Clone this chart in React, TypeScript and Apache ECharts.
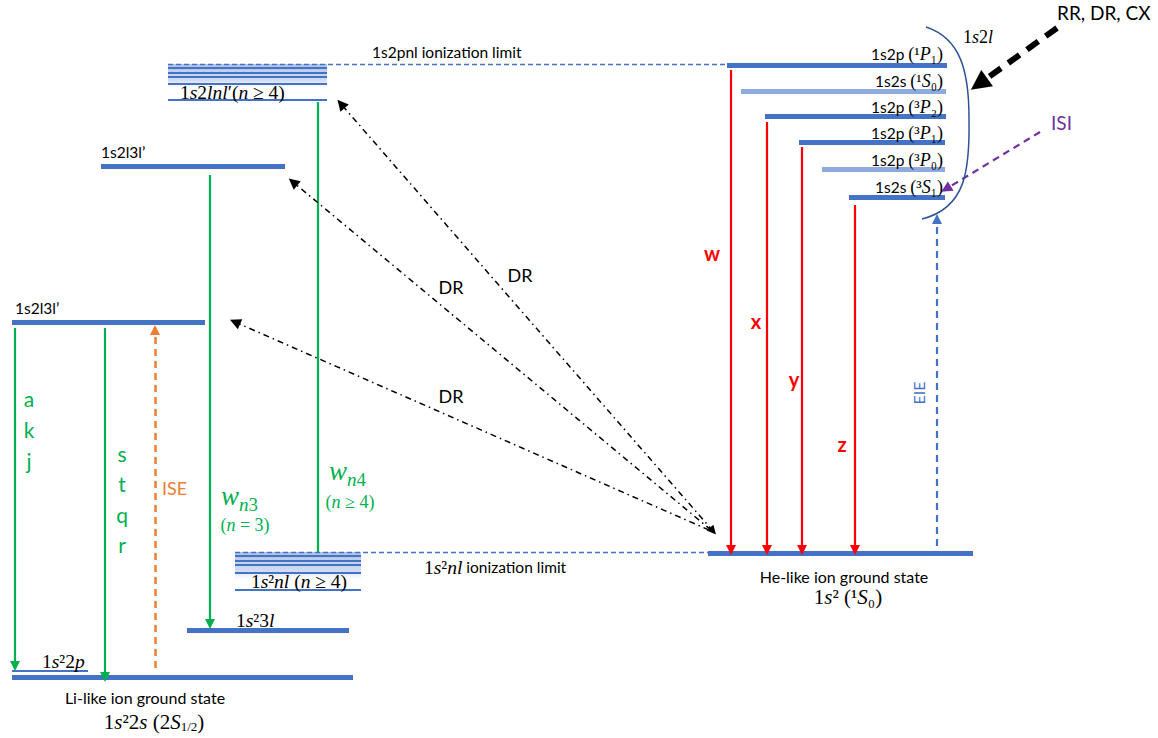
import React, { useEffect, useRef } from "react";
import * as echarts from "echarts";

// ---- Diagram data (pixel-like energy-level coordinates) ----
// levels: [x1, x2, y]
const LI_THICK: number[][] = [
  [12, 353, 677], // Li-like ground 1s²2s
  [187, 349, 630], // 1s²3l
  [12, 205, 322], // 1s2l3l' (lower)
  [101, 285, 166], // 1s2l3l' (upper)
];
const LI_THIN: number[][] = [
  [12, 88, 671], // 1s²2p
  [235, 361, 590], // 1s²nl bottom
  [168, 327, 100], // 1s2lnl' bottom
];
const BAND_LINES: number[][] = [
  [168, 327, 68], [168, 327, 72.5], [168, 327, 77], [168, 327, 84],
  [235, 361, 556], [235, 361, 560.5], [235, 361, 565], [235, 361, 573],
];
// bands: [x1, x2, yTop, yBottom]
const BANDS: number[][] = [
  [168, 327, 64, 90],
  [235, 361, 552, 582],
];
const LIMITS: number[][] = [
  [168, 728, 64],
  [235, 708, 552],
];
const HE_DARK: number[][] = [
  [708, 973, 553], // He-like ground
  [727, 947, 65], // 1P1
  [765, 946, 116], // 3P2
  [799, 945, 142], // 3P1
  [849, 945, 197], // 3S1
];
const HE_LIGHT: number[][] = [
  [741, 946, 91], // 1S0
  [822, 945, 169], // 3P0
];
// vertical transitions: [x, yFrom, yTo]
const RED_LINES: number[][] = [
  [731, 70, 550],
  [767, 122, 550],
  [802, 147, 550],
  [855, 205, 550],
];
const GREEN_ARROWS: number[][] = [
  [15, 328, 666],
  [105, 328, 677],
  [210, 175, 624],
];
const GREEN_PLAIN: number[][] = [[318, 102, 552]];
const ISE_ARROW: number[][] = [[155, 668, 330]];
const EIE_ARROW: number[][] = [[937, 546, 219]];
// oblique arrows: [x1, y1, x2, y2]
const DR_ARROWS: number[][] = [
  [713, 531, 341, 104],
  [711, 530, 293, 182],
  [709, 530, 235, 322],
];
const FEED_ARROW: number[][] = [[1057, 28, 979, 84]];
const ISI_ARROW: number[][] = [[1040, 132, 946, 189]];
// brace: two cubic segments [x1,y1,cx1,cy1,cx2,cy2,x2,y2]
const BRACE: number[][] = [
  [926, 27, 960, 38, 969, 70, 969, 118],
  [969, 118, 970, 170, 966, 208, 922, 219],
];

type Lbl = {
  t: string;
  x: number;
  y: number;
  a?: "left" | "center" | "right";
  c?: string;
  f?: number;
  b?: boolean;
  r?: number;
};

const BLUE = "#4472C4";
const LIGHT = "#8FAADC";
const GREEN = "#00B050";
const RED = "#FF0000";
const ORANGE = "#ED7D31";
const PURPLE = "#7030A0";

const LABELS: Lbl[] = [
  { t: "1s2pnl ionization limit", x: 372, y: 52 },
  { t: "{n|1}{i|s}{n|2}{i|lnl}{n|′(}{i|n}{n| ≥ 4)}", x: 180, y: 92 },
  { t: "1s2l3l’", x: 101, y: 152 },
  { t: "1s2l3l’", x: 15, y: 308 },
  { t: "{n|1}{i|s}{n|²}{i|nl}{n| (}{i|n}{n| ≥ 4)}", x: 299, y: 581, a: "center" },
  { t: "{n|1}{i|s}{n|²}{i|nl}{s| ionization limit}", x: 424, y: 567 },
  { t: "{n|1}{i|s}{n|²3}{i|l}", x: 236, y: 620 },
  { t: "{n|1}{i|s}{n|²2}{i|p}", x: 42, y: 661 },
  { t: "Li-like ion ground state", x: 145, y: 697, a: "center", f: 16 },
  { t: "{N|1}{I|s}{N|²2}{I|s}{N| (2}{I|S}{sb|1/2}{N|)}", x: 154, y: 722, a: "center" },
  { t: "He-like ion ground state", x: 844, y: 576, a: "center", f: 16 },
  { t: "{N|1}{I|s}{N|² (¹}{I|S}{N|₀)}", x: 848, y: 597, a: "center" },
  { t: "{s|1s2p }{p|(¹}{q|P}{p|₁)}", x: 943, y: 54, a: "right" },
  { t: "{s|1s2s }{p|(¹}{q|S}{p|₀)}", x: 943, y: 81, a: "right" },
  { t: "{s|1s2p }{p|(³}{q|P}{p|₂)}", x: 943, y: 107, a: "right" },
  { t: "{s|1s2p }{p|(³}{q|P}{p|₁)}", x: 943, y: 133, a: "right" },
  { t: "{s|1s2p }{p|(³}{q|P}{p|₀)}", x: 943, y: 160, a: "right" },
  { t: "{s|1s2s }{p|(³}{q|S}{p|₁)}", x: 943, y: 187, a: "right" },
  { t: "{p|1}{q|s}{p|2}{q|l}", x: 963, y: 37 },
  { t: "RR, DR, CX", x: 1057, y: 12, f: 19 },
  { t: "ISI", x: 1051, y: 122, f: 19, c: PURPLE },
  { t: "EIE", x: 918, y: 393, f: 16, c: BLUE, r: Math.PI / 2, a: "center" },
  { t: "w", x: 712, y: 253, f: 20, c: RED, b: true, a: "center" },
  { t: "x", x: 756, y: 321, f: 20, c: RED, b: true, a: "center" },
  { t: "y", x: 794, y: 379, f: 20, c: RED, b: true, a: "center" },
  { t: "z", x: 842, y: 444, f: 20, c: RED, b: true, a: "center" },
  { t: "DR", x: 520, y: 275, f: 18, a: "center" },
  { t: "DR", x: 451, y: 287, f: 18, a: "center" },
  { t: "DR", x: 451, y: 396, f: 18, a: "center" },
  { t: "a", x: 29, y: 398, f: 21, c: GREEN, a: "center" },
  { t: "k", x: 29, y: 429, f: 21, c: GREEN, a: "center" },
  { t: "j", x: 29, y: 460, f: 21, c: GREEN, a: "center" },
  { t: "s", x: 122, y: 453, f: 21, c: GREEN, a: "center" },
  { t: "t", x: 122, y: 483, f: 21, c: GREEN, a: "center" },
  { t: "q", x: 122, y: 514, f: 21, c: GREEN, a: "center" },
  { t: "r", x: 122, y: 544, f: 21, c: GREEN, a: "center" },
  { t: "ISE", x: 162, y: 488, f: 18, c: ORANGE },
  { t: "{W|w}{ws|n}{wn|3}", x: 221, y: 496, c: GREEN },
  { t: "{p|(}{q|n}{p| = 3)}", x: 245, y: 525, c: GREEN, a: "center" },
  { t: "{W|w}{ws|n}{wn|4}", x: 329, y: 471, c: GREEN },
  { t: "{p|(}{q|n}{p| ≥ 4)}", x: 350, y: 502, c: GREEN, a: "center" },
];

const SANS = "Lato, 'Noto Sans', sans-serif";
const SERIF = "'Liberation Serif', 'DejaVu Serif', serif";

const RICH: any = {
  s: { fontFamily: SANS, fontSize: 15.5 },
  n: { fontFamily: SERIF, fontSize: 19.5 },
  i: { fontFamily: SERIF, fontSize: 19.5, fontStyle: "italic" },
  p: { fontFamily: SERIF, fontSize: 18, lineHeight: 17 },
  q: { fontFamily: SERIF, fontSize: 18, fontStyle: "italic", lineHeight: 17 },
  N: { fontFamily: SERIF, fontSize: 21, lineHeight: 19 },
  I: { fontFamily: SERIF, fontSize: 21, fontStyle: "italic", lineHeight: 19 },
  sb: { fontFamily: SERIF, fontSize: 13, lineHeight: 10, padding: [8, 0, 0, 0] },
  W: { fontFamily: SERIF, fontSize: 27, fontStyle: "italic", lineHeight: 24 },
  ws: { fontFamily: SERIF, fontSize: 19, fontStyle: "italic", lineHeight: 15, padding: [16, 0, 0, 0] },
  wn: { fontFamily: SERIF, fontSize: 19, lineHeight: 15, padding: [16, 0, 0, 0] },
};

function hSeg(rows: number[][]) {
  return rows.map((r) => ({ coords: [[r[0], r[2]], [r[1], r[2]]] }));
}
function vSeg(rows: number[][]) {
  return rows.map((r) => ({ coords: [[r[0], r[1]], [r[0], r[2]]] }));
}
function oSeg(rows: number[][]) {
  return rows.map((r) => ({ coords: [[r[0], r[1]], [r[2], r[3]]] }));
}

function linesSeries(
  data: any[],
  lineStyle: any,
  symbol: string[] = ["none", "none"],
  symbolSize: number | number[] = 10,
  z = 3
) {
  return {
    type: "lines",
    coordinateSystem: "cartesian2d",
    polyline: false,
    silent: true,
    z,
    symbol,
    symbolSize,
    lineStyle: { opacity: 1, curveness: 0, ...lineStyle },
    data,
  };
}

export default function App() {
  const ref = useRef<HTMLDivElement>(null);
  useEffect(() => {
    const chart = echarts.init(ref.current!, null, { renderer: "svg" });
    const option: any = {
      animation: false,
      backgroundColor: "#ffffff",
      grid: { left: 0, right: 0, top: 0, bottom: 0, containLabel: false },
      xAxis: { type: "value", min: 0, max: 1158, show: false },
      yAxis: { type: "value", min: 0, max: 738, inverse: true, show: false },
      series: [
        // shaded bands of Rydberg levels
        {
          type: "custom",
          silent: true,
          z: 1,
          clip: false,
          data: BANDS,
          renderItem: (_p: any, api: any) => {
            const a = api.coord([api.value(0), api.value(2)]);
            const b = api.coord([api.value(1), api.value(3)]);
            return {
              type: "rect",
              shape: { x: a[0], y: a[1], width: b[0] - a[0], height: b[1] - a[1] },
              style: {
                fill: new echarts.graphic.LinearGradient(0, 0, 0, 1, [
                  { offset: 0, color: "#AFC3E6" },
                  { offset: 0.65, color: "#D3DDF1" },
                  { offset: 1, color: "rgba(255,255,255,0)" },
                ]),
              },
            };
          },
        },
        // level lines
        linesSeries(hSeg(LI_THICK), { width: 5, color: BLUE }),
        linesSeries(hSeg(HE_DARK), { width: 5, color: BLUE }),
        linesSeries(hSeg(HE_LIGHT), { width: 5, color: LIGHT }),
        linesSeries(hSeg(LI_THIN), { width: 2, color: BLUE }),
        linesSeries(hSeg(BAND_LINES), { width: 2.2, color: BLUE }),
        // ionization limits
        linesSeries(hSeg(LIMITS), { width: 1.3, color: BLUE, type: [5, 3] }),
        // red w x y z
        linesSeries(vSeg(RED_LINES), { width: 2.2, color: RED }, ["none", "triangle"], [0, 10], 4),
        // green
        linesSeries(vSeg(GREEN_ARROWS), { width: 2.2, color: GREEN }, ["none", "triangle"], [0, 10], 4),
        linesSeries(vSeg(GREEN_PLAIN), { width: 2.2, color: GREEN }, ["none", "none"], 0, 4),
        // ISE
        linesSeries(vSeg(ISE_ARROW), { width: 2.5, color: ORANGE, type: [7, 5] }, ["none", "triangle"], [0, 10], 4),
        // EIE
        linesSeries(vSeg(EIE_ARROW), { width: 2.2, color: BLUE, type: [7, 5] }, ["none", "triangle"], [0, 10], 4),
        // DR
        linesSeries(
          oSeg(DR_ARROWS.slice(0, 1)),
          { width: 1.5, color: "#000", type: [6, 4, 1.5, 4] },
          ["triangle", "triangle"],
          [9, 11],
          4
        ),
        linesSeries(
          oSeg(DR_ARROWS.slice(1)),
          { width: 1.5, color: "#000", type: [6, 4, 1.5, 4] },
          ["none", "triangle"],
          [0, 11],
          4
        ),
        // RR, DR, CX feed arrow
        linesSeries(oSeg(FEED_ARROW), { width: 6, color: "#000", type: [14, 9] }, ["none", "triangle"], [0, 20], 4),
        // ISI
        linesSeries(oSeg(ISI_ARROW), { width: 2.2, color: PURPLE, type: [7, 5] }, ["none", "triangle"], [0, 11], 4),
        // brace
        {
          type: "custom",
          silent: true,
          z: 4,
          clip: false,
          data: BRACE,
          renderItem: (_p: any, api: any) => {
            const p1 = api.coord([api.value(0), api.value(1)]);
            const c1 = api.coord([api.value(2), api.value(3)]);
            const c2 = api.coord([api.value(4), api.value(5)]);
            const p2 = api.coord([api.value(6), api.value(7)]);
            return {
              type: "bezierCurve",
              shape: {
                x1: p1[0], y1: p1[1],
                cpx1: c1[0], cpy1: c1[1],
                cpx2: c2[0], cpy2: c2[1],
                x2: p2[0], y2: p2[1],
              },
              style: { stroke: "#2F5597", lineWidth: 1.5, fill: "none" },
            };
          },
        },
        // texts
        {
          type: "custom",
          silent: true,
          z: 6,
          clip: false,
          data: LABELS.map((l, i) => [l.x, l.y, i]),
          renderItem: (_p: any, api: any) => {
            const L = LABELS[api.value(2)];
            const p = api.coord([api.value(0), api.value(1)]);
            return {
              type: "text",
              x: p[0],
              y: p[1],
              rotation: L.r || 0,
              style: {
                text: L.t,
                fill: L.c || "#000",
                fontFamily: SANS,
                fontSize: L.f || 15.5,
                fontWeight: L.b ? "bold" : "normal",
                align: L.a || "left",
                verticalAlign: "middle",
                rich: RICH,
              },
            };
          },
        },
      ],
    };
    chart.setOption(option);
    return () => chart.dispose();
  }, []);
  return (
    <div
      ref={ref}
      style={{ position: "absolute", left: 0, top: 0, width: 1158, height: 738, background: "#fff" }}
    />
  );
}
